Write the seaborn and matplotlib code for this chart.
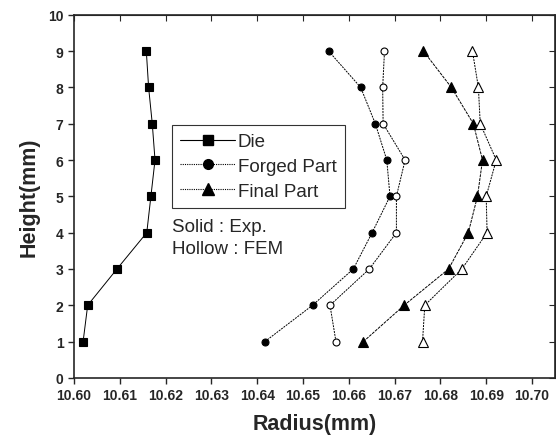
import numpy as np
import matplotlib
matplotlib.use("Agg")
import matplotlib.pyplot as plt
import seaborn as sns
from matplotlib.lines import Line2D

sns.set_style("ticks")
plt.rcParams['font.family'] = ['Liberation Sans', 'DejaVu Sans']

height = [1, 2, 3, 4, 5, 6, 7, 8, 9]

die_exp = [10.6020, 10.6030, 10.6094, 10.6159, 10.6168, 10.6177, 10.6171, 10.6163, 10.6158]
forged_exp = [10.6417, 10.6521, 10.6610, 10.6651, 10.6690, 10.6683, 10.6658, 10.6626, 10.6556]
forged_fem = [10.6572, 10.6559, 10.6645, 10.6704, 10.6704, 10.6723, 10.6675, 10.6674, 10.6678]
final_exp = [10.6632, 10.6721, 10.6818, 10.6861, 10.6881, 10.6892, 10.6872, 10.6824, 10.6763]
final_fem = [10.6761, 10.6766, 10.6847, 10.6902, 10.6900, 10.6922, 10.6887, 10.6883, 10.6870]

fig = plt.figure(figsize=(5.56, 4.39), dpi=100)
ax = fig.add_axes([0.133, 0.137, 0.865, 0.827])

series = [
    (die_exp,    's', 'black', '-',          5.5),
    (forged_exp, 'o', 'black', (0, (2, 1)),  5),
    (forged_fem, 'o', 'white', (0, (2, 1)),  5),
    (final_exp,  '^', 'black', (0, (3, 1)),  6.5),
    (final_fem,  '^', 'white', (0, (2, 1)),  6.5),
]
for xs, mk, fc, ls, ms in series:
    sns.lineplot(x=xs, y=height, ax=ax, sort=False, estimator=None,
                 color='black', linewidth=0.7, linestyle=ls,
                 marker=mk, markersize=ms, markerfacecolor=fc,
                 markeredgecolor='black', markeredgewidth=0.8)

ax.set_xlim(10.60, 10.705)
ax.set_ylim(0, 10)
xt = np.arange(10.60, 10.7001, 0.01)
ax.set_xticks(xt)
ax.set_xticklabels([f"{v:.2f}" for v in xt])
ax.set_yticks(range(0, 11))
ax.tick_params(axis='both', labelsize=10, width=1, length=4, direction='out')
for lbl in ax.get_xticklabels() + ax.get_yticklabels():
    lbl.set_fontweight('bold')

# inner ticks on top and right like the original
top = ax.secondary_xaxis('top')
top.set_xticks(xt)
top.tick_params(direction='in', length=4, labeltop=False)
right = ax.secondary_yaxis('right')
right.set_yticks(range(0, 11))
right.tick_params(direction='in', length=4, labelright=False)
for sp in ax.spines.values():
    sp.set_linewidth(1.2)
    sp.set_visible(True)

ax.set_xlabel("Radius(mm)", fontsize=15.5, fontweight='bold', labelpad=8)
ax.set_ylabel("Height(mm)", fontsize=15.5, fontweight='bold', labelpad=6)

handles = [
    Line2D([], [], color='black', lw=0.8, ls='-', marker='s', ms=7),
    Line2D([], [], color='black', lw=0.8, ls=(0, (1, 1)), marker='o', ms=7),
    Line2D([], [], color='black', lw=0.8, ls=(0, (1, 1)), marker='^', ms=8),
]
leg = ax.legend(handles, ["Die", "Forged Part", "Final Part"],
                loc='upper left', bbox_to_anchor=(0.204, 0.697),
                fontsize=13.5, frameon=True, fancybox=False,
                edgecolor='black', handlelength=2.9, borderpad=0.45,
                labelspacing=0.4, handletextpad=0.15, borderaxespad=0)
leg.get_frame().set_linewidth(0.8)

ax.text(10.6213, 4.4, "Solid : Exp.\nHollow : FEM", fontsize=13.5,
        va='top', ha='left', linespacing=1.35)

fig.savefig("out.png", dpi=100)
